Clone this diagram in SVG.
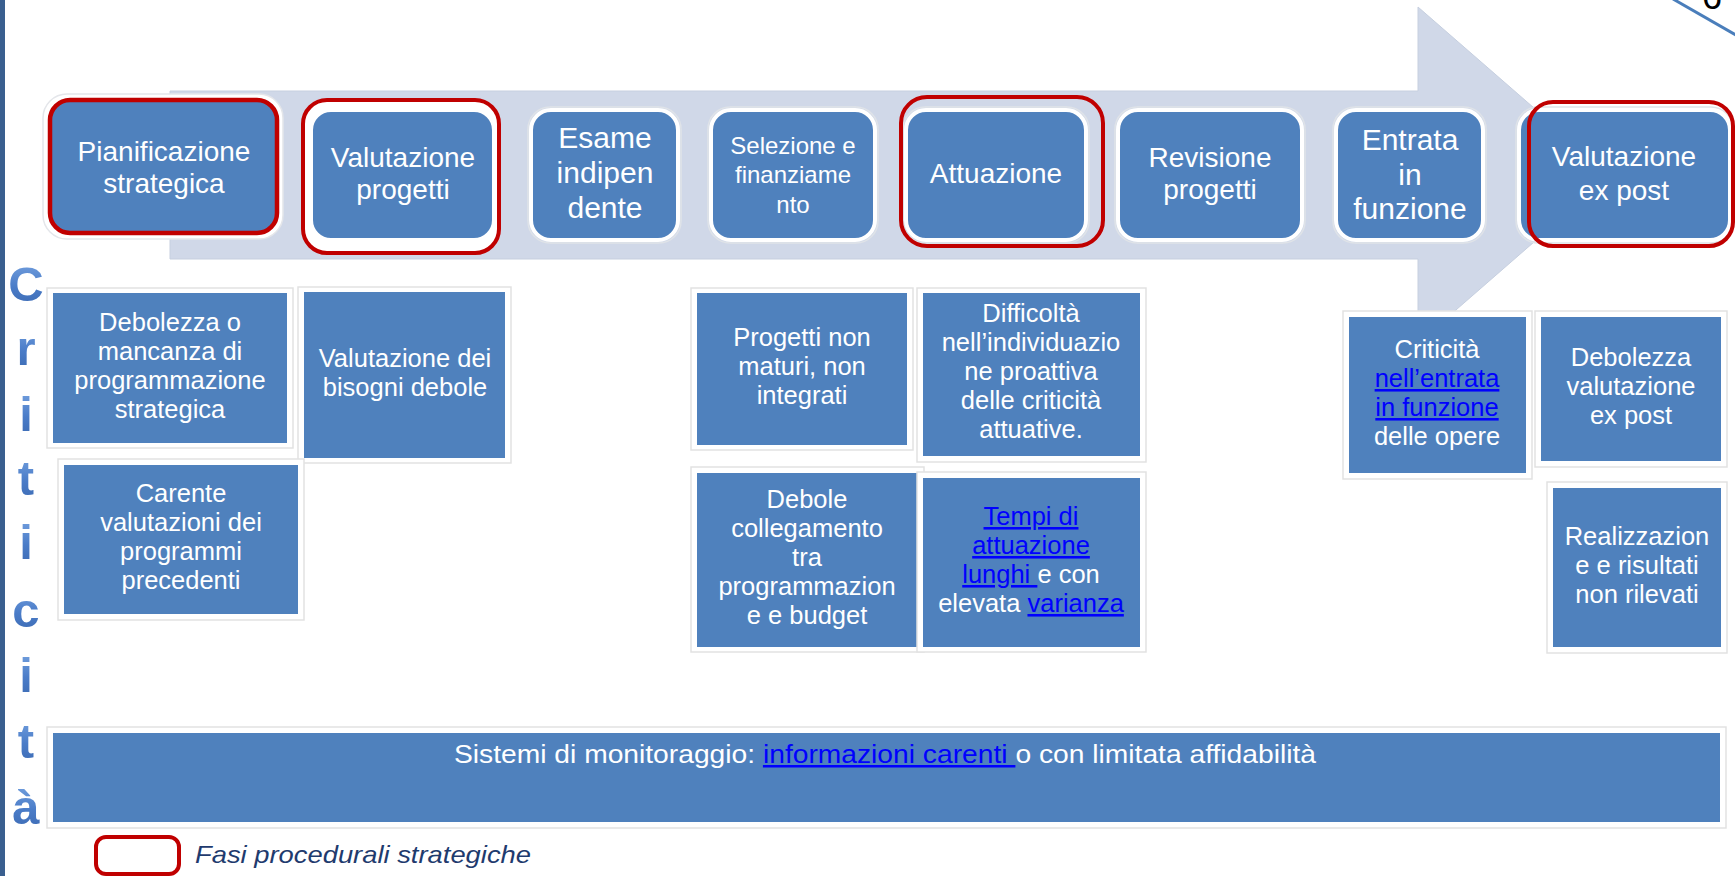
<svg xmlns="http://www.w3.org/2000/svg" width="1735" height="876" viewBox="0 0 1735 876">
<defs>
  <linearGradient id="letterGrad" x1="0" y1="0" x2="0" y2="1">
    <stop offset="0" stop-color="#7aa6e2"/>
    <stop offset="0.55" stop-color="#4a7cc8"/>
    <stop offset="1" stop-color="#3a68b0"/>
  </linearGradient>
</defs>
<style>
  text { font-family: "Liberation Sans", Arial, sans-serif; }
  .box { fill: #4f81bd; stroke: #ffffff; stroke-width: 4; }
  .halo { fill: none; stroke: #dfe3e8; stroke-width: 1.5; }
  .red { fill: none; stroke: #c00000; stroke-width: 4; }
  .frame { fill: #ffffff; stroke: #e2e2e2; stroke-width: 1.5; }
  .cbox { fill: #4f81bd; }
  .tt { font-size: 28px; fill: #ffffff; text-anchor: middle; }
  .t3 { font-size: 30px; fill: #ffffff; text-anchor: middle; }
  .ts { font-size: 24px; fill: #ffffff; text-anchor: middle; }
  .tc { font-size: 25.5px; fill: #ffffff; text-anchor: middle; }
  .lk { fill: #0000ff; text-decoration: underline; }
  .vl { font-size: 49px; font-weight: 700; fill: url(#letterGrad); text-anchor: middle; }
</style>

<!-- page edge and corner fragments -->
<rect x="0" y="0" width="5" height="876" fill="#3a5f8f"/>
<line x1="1673" y1="-1" x2="1736" y2="35" stroke="#4a7ebb" stroke-width="3"/>
<text x="1702" y="9" font-size="36" fill="#000000">6</text>

<!-- big process arrow -->
<g id="process-arrow">
  <polygon points="170,91 1418,91 1418,7 1611,175 1418,343 1418,259 170,259" fill="#d0d8e8" stroke="#c6cfdf" stroke-width="1"/>
</g>

<!-- phase nodes -->
<g id="phase-pianificazione">
  <rect x="43" y="94" width="240" height="145" rx="24" fill="#ffffff" stroke="#e4e6ea" stroke-width="1.5"/>
  <rect x="50" y="100" width="227" height="133" rx="20" fill="#4f81bd" stroke="#c00000" stroke-width="4.5"/>
  <text class="tt" x="164" y="161">Pianificazione</text>
  <text class="tt" x="164" y="193">strategica</text>
</g>

<g id="phase-valutazione-progetti">
  <rect x="303" y="100" width="196" height="153" rx="24" fill="#ffffff" stroke="#c00000" stroke-width="4"/>
  <rect class="box" x="311" y="110" width="183" height="130" rx="20"/>
  <text class="tt" x="403" y="167">Valutazione</text>
  <text class="tt" x="403" y="199">progetti</text>
</g>

<g id="phase-esame">
  <rect class="halo" x="528" y="107" width="153" height="136" rx="22"/>
  <rect class="box" x="531" y="110" width="147" height="130" rx="20"/>
  <text class="t3" x="605" y="148">Esame</text>
  <text class="t3" x="605" y="183">indipen</text>
  <text class="t3" x="605" y="218">dente</text>
</g>

<g id="phase-selezione">
  <rect class="halo" x="708" y="107" width="170" height="136" rx="22"/>
  <rect class="box" x="711" y="110" width="164" height="130" rx="20"/>
  <text class="ts" x="793" y="154">Selezione e</text>
  <text class="ts" x="793" y="183">finanziame</text>
  <text class="ts" x="793" y="213">nto</text>
</g>

<g id="phase-attuazione">
  <rect class="halo" x="903" y="107" width="186" height="136" rx="22"/>
  <rect class="box" x="906" y="110" width="180" height="130" rx="20"/>
  <rect class="red" x="901" y="97" width="202" height="149" rx="26"/>
  <text class="tt" x="996" y="183">Attuazione</text>
</g>

<g id="phase-revisione">
  <rect class="halo" x="1115" y="107" width="190" height="136" rx="22"/>
  <rect class="box" x="1118" y="110" width="184" height="130" rx="20"/>
  <text class="tt" x="1210" y="167">Revisione</text>
  <text class="tt" x="1210" y="199">progetti</text>
</g>

<g id="phase-entrata">
  <rect class="halo" x="1333" y="107" width="153" height="136" rx="22"/>
  <rect class="box" x="1336" y="110" width="147" height="130" rx="20"/>
  <text class="t3" x="1410" y="150">Entrata</text>
  <text class="t3" x="1410" y="185">in</text>
  <text class="t3" x="1410" y="219">funzione</text>
</g>

<g id="phase-valutazione-ex-post">
  <rect class="halo" x="1516" y="107" width="217" height="136" rx="22"/>
  <rect class="box" x="1519" y="110" width="211" height="130" rx="20"/>
  <rect class="red" x="1529" y="102" width="204" height="144" rx="24"/>
  <text class="tt" x="1624" y="166">Valutazione</text>
  <text class="tt" x="1624" y="200">ex post</text>
</g>

<!-- vertical label -->
<g id="label-criticita">
  <text class="vl" x="26" y="301">C</text>
  <text class="vl" x="26" y="365">r</text>
  <text class="vl" x="26" y="431">i</text>
  <text class="vl" x="26" y="495">t</text>
  <text class="vl" x="26" y="559">i</text>
  <text class="vl" x="26" y="627">c</text>
  <text class="vl" x="26" y="692">i</text>
  <text class="vl" x="26" y="758">t</text>
  <text class="vl" x="26" y="824">à</text>
</g>

<!-- criticality nodes -->
<g id="crit-debolezza-programmazione">
  <rect class="frame" x="47" y="288" width="246" height="160"/>
  <rect class="cbox" x="53" y="293" width="234" height="150"/>
  <text class="tc" x="170" y="331">Debolezza o</text>
  <text class="tc" x="170" y="360">mancanza di</text>
  <text class="tc" x="170" y="389">programmazione</text>
  <text class="tc" x="170" y="418">strategica</text>
</g>

<g id="crit-valutazione-bisogni">
  <rect class="frame" x="298" y="287" width="213" height="176"/>
  <rect class="cbox" x="304" y="292" width="201" height="166"/>
  <text class="tc" x="405" y="367">Valutazione dei</text>
  <text class="tc" x="405" y="396">bisogni debole</text>
</g>

<g id="crit-carente-valutazioni">
  <rect class="frame" x="58" y="459" width="246" height="161"/>
  <rect class="cbox" x="64" y="465" width="234" height="149"/>
  <text class="tc" x="181" y="502">Carente</text>
  <text class="tc" x="181" y="531">valutazioni dei</text>
  <text class="tc" x="181" y="560">programmi</text>
  <text class="tc" x="181" y="589">precedenti</text>
</g>

<g id="crit-progetti-non-maturi">
  <rect class="frame" x="691" y="288" width="222" height="162"/>
  <rect class="cbox" x="697" y="293" width="210" height="152"/>
  <text class="tc" x="802" y="346">Progetti non</text>
  <text class="tc" x="802" y="375">maturi, non</text>
  <text class="tc" x="802" y="404">integrati</text>
</g>

<g id="crit-difficolta">
  <rect class="frame" x="917" y="288" width="229" height="174"/>
  <rect class="cbox" x="923" y="293" width="217" height="163"/>
  <text class="tc" x="1031" y="322">Difficoltà</text>
  <text class="tc" x="1031" y="351">nell’individuazio</text>
  <text class="tc" x="1031" y="380">ne proattiva</text>
  <text class="tc" x="1031" y="409">delle criticità</text>
  <text class="tc" x="1031" y="438">attuative.</text>
</g>

<g id="crit-debole-collegamento">
  <rect class="frame" x="691" y="467" width="233" height="185"/>
  <rect class="cbox" x="697" y="473" width="221" height="174"/>
  <text class="tc" x="807" y="508">Debole</text>
  <text class="tc" x="807" y="537">collegamento</text>
  <text class="tc" x="807" y="566">tra</text>
  <text class="tc" x="807" y="595">programmazion</text>
  <text class="tc" x="807" y="624">e e budget</text>
</g>

<g id="crit-tempi-attuazione">
  <rect class="frame" x="917" y="472" width="229" height="180"/>
  <rect class="cbox" x="923" y="478" width="217" height="169"/>
  <text class="tc" x="1031" y="525"><tspan class="lk">Tempi di</tspan></text>
  <text class="tc" x="1031" y="554"><tspan class="lk">attuazione</tspan></text>
  <text class="tc" x="1031" y="583"><tspan class="lk">lunghi </tspan>e con</text>
  <text class="tc" x="1031" y="612">elevata <tspan class="lk">varianza</tspan></text>
</g>

<g id="crit-entrata-funzione">
  <rect class="frame" x="1343" y="311" width="189" height="168"/>
  <rect class="cbox" x="1349" y="317" width="177" height="156"/>
  <text class="tc" x="1437" y="358">Criticità</text>
  <text class="tc" x="1437" y="387"><tspan class="lk">nell’entrata</tspan></text>
  <text class="tc" x="1437" y="416"><tspan class="lk">in funzione</tspan></text>
  <text class="tc" x="1437" y="445">delle opere</text>
</g>

<g id="crit-debolezza-ex-post">
  <rect class="frame" x="1535" y="311" width="192" height="156"/>
  <rect class="cbox" x="1541" y="317" width="180" height="144"/>
  <text class="tc" x="1631" y="366">Debolezza</text>
  <text class="tc" x="1631" y="395">valutazione</text>
  <text class="tc" x="1631" y="424">ex post</text>
</g>

<g id="crit-realizzazione">
  <rect class="frame" x="1547" y="482" width="180" height="171"/>
  <rect class="cbox" x="1553" y="488" width="168" height="159"/>
  <text class="tc" x="1637" y="545">Realizzazion</text>
  <text class="tc" x="1637" y="574">e e risultati</text>
  <text class="tc" x="1637" y="603">non rilevati</text>
</g>

<g id="crit-monitoraggio">
  <rect class="frame" x="47" y="727" width="1679" height="101"/>
  <rect class="cbox" x="53" y="733" width="1667" height="89"/>
  <text x="885" y="763" font-size="25" fill="#ffffff" text-anchor="middle" textLength="862" lengthAdjust="spacingAndGlyphs">Sistemi di monitoraggio: <tspan class="lk">informazioni carenti </tspan>o con limitata affidabilità</text>
</g>

<!-- legend -->
<g id="legend">
  <rect x="96" y="837" width="83" height="37" rx="10" fill="none" stroke="#c00000" stroke-width="4"/>
  <text x="195" y="863" font-size="24" font-style="italic" fill="#1f3b6e" textLength="336" lengthAdjust="spacingAndGlyphs">Fasi procedurali strategiche</text>
</g>

<g id="connectors"></g>
</svg>
